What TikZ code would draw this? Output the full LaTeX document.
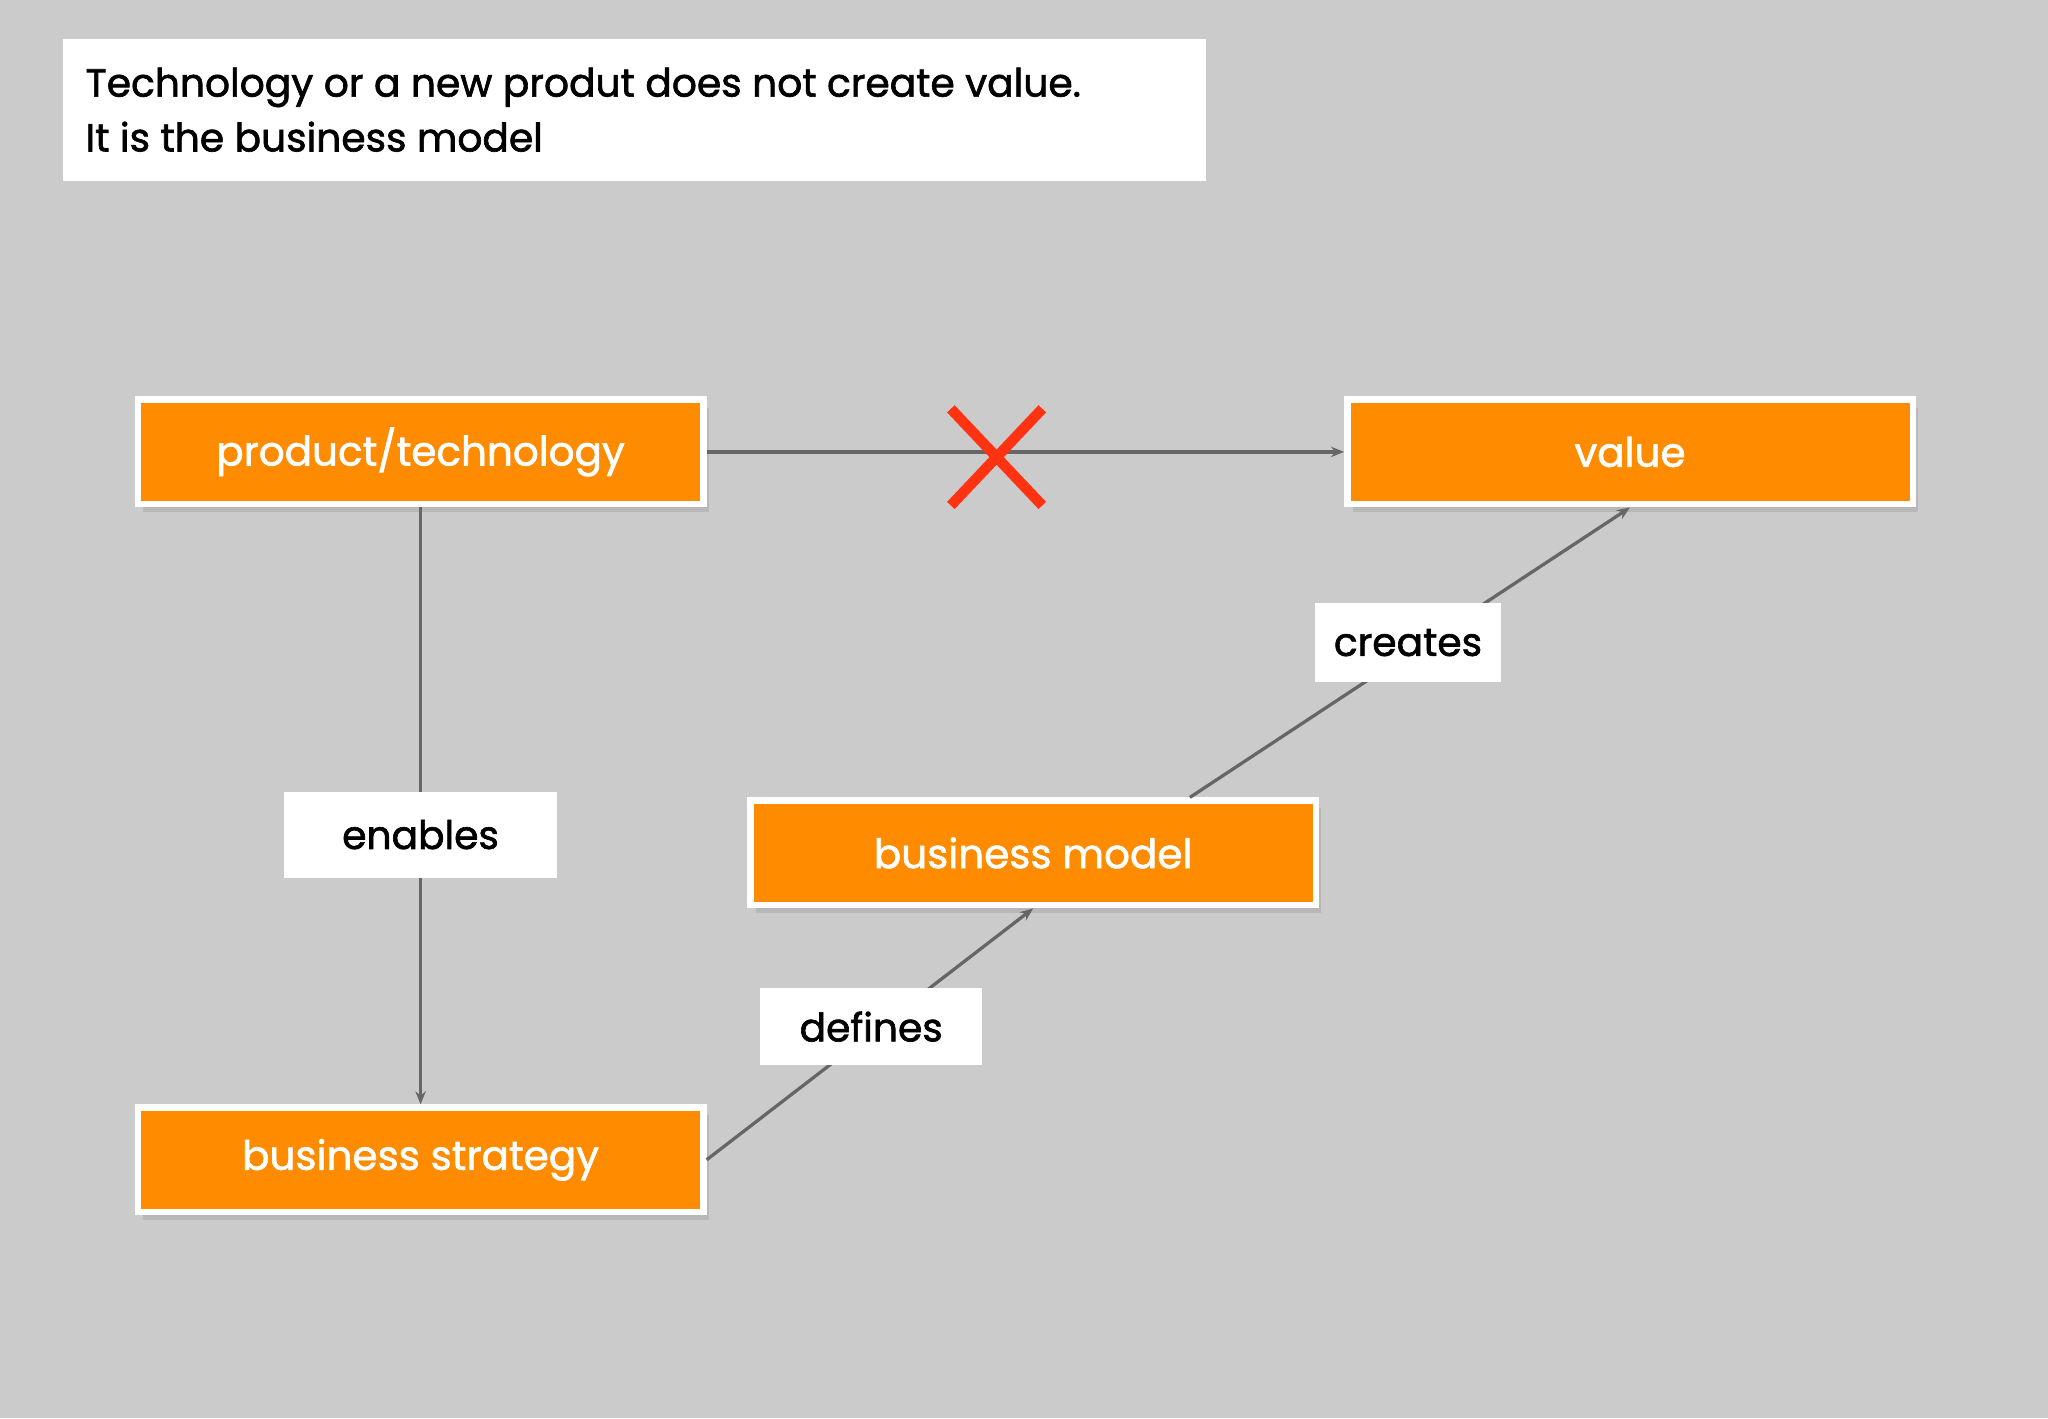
\documentclass[tikz,border=0pt]{standalone}
\usepackage{fontspec}
\setmainfont[FakeBold=1.6]{Poppins}
\usetikzlibrary{shadows,arrows.meta}
\definecolor{bg}{HTML}{CCCBCC}
\definecolor{org}{HTML}{FF8C00}
\definecolor{ln}{HTML}{666666}
\definecolor{xr}{HTML}{FF3311}
\tikzset{
 obox/.style={fill=org,draw=white,line width=5pt,minimum width=433pt,minimum height=80pt,text=white,font=\fontsize{31}{36}\selectfont,drop shadow={shadow xshift=4pt,shadow yshift=-6pt,opacity=0.25}},
 lbl/.style={fill=white,inner sep=0pt,text=black,font=\fontsize{30}{34}\selectfont},
 conn/.style={ln,line width=2.5pt,-{Stealth[length=10pt,width=8pt]}}
}
\begin{document}
\begin{tikzpicture}[x=1pt,y=-1pt]
\fill[bg] (0,0) rectangle (1568,1086);
\useasboundingbox (0,0) rectangle (1568,1086);
\node[fill=white,minimum width=875pt,minimum height=108pt,anchor=north west] (title) at (48,30) {};
\node[anchor=west,font=\fontsize{30}{42}\selectfont,align=left] (tt) at (62,84) {Technology or a new produt does not create value.\\It is the business model};
\node[obox] (pt) at (322,346) {product/technology};
\node[obox] (val) at (1248,346) {value};
\node[obox] (bm) at (791,653) {business model};
\node[obox] (bs) at (322,888) {business strategy};
\draw[conn] (pt.east) -- (val.west);
\draw[conn] (pt.south) -- (bs.north);
\draw[conn] (bs.east) -- (bm.south);
\draw[conn] ([xshift=120pt]bm.north) -- (val.south);
\node[lbl,minimum width=209pt,minimum height=66pt] (en) at (322,639) {enables};
\node[lbl,minimum width=170pt,minimum height=59pt] (df) at (667,786) {defines};
\node[lbl,minimum width=143pt,minimum height=60pt] (cr) at (1078,492) {creates};
\coordinate (xc) at (763,350);
\draw[xr,line width=8pt] ([shift={(-35,-37)}]xc) -- ([shift={(35,37)}]xc) ([shift={(35,-37)}]xc) -- ([shift={(-35,37)}]xc);
\end{tikzpicture}
\end{document}
